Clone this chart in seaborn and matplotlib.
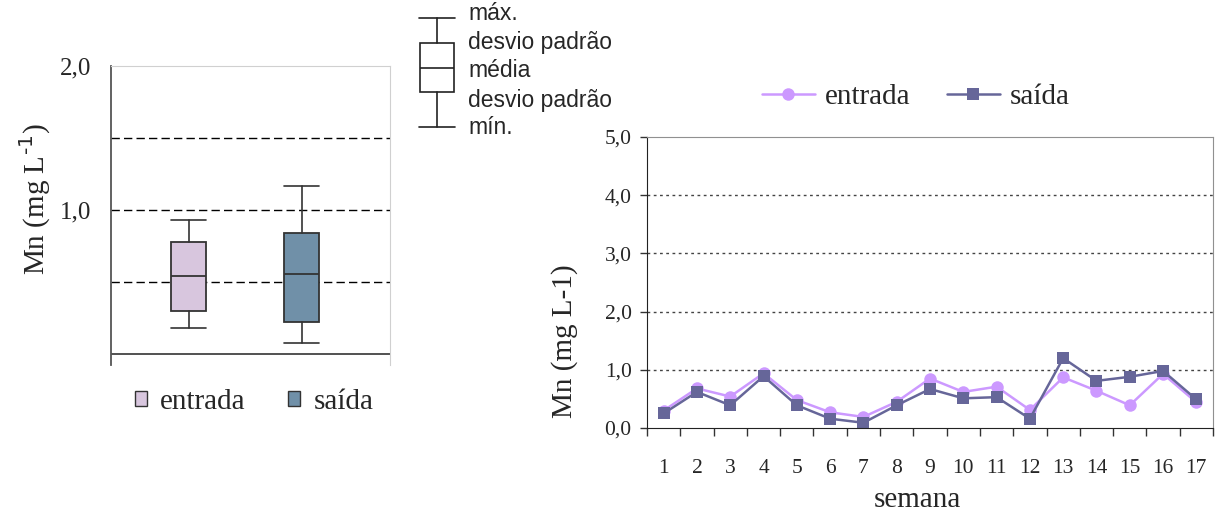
import matplotlib
matplotlib.use("Agg")
import matplotlib.pyplot as plt
from matplotlib.patches import Patch
from matplotlib.lines import Line2D
import numpy as np
import pandas as pd
import seaborn as sns

sns.set_style("white")
plt.rcParams["font.family"] = ["Liberation Serif", "DejaVu Serif"]

# box summary (min, mean - sd, mean, mean + sd, max)
grupos = ["entrada", "saída"]
box_min = [0.18, 0.08]
box_q1 = [0.30, 0.22]
box_med = [0.54, 0.555]
box_q3 = [0.78, 0.84]
box_max = [0.93, 1.17]
box_cores = ["#D8C6DE", "#7090A8"]

# weekly values
semanas = list(range(1, 18))
entrada = [0.30, 0.68, 0.54, 0.94, 0.48, 0.27, 0.19, 0.45, 0.85, 0.62,
           0.71, 0.31, 0.87, 0.64, 0.39, 0.93, 0.44]
saida = [0.25, 0.62, 0.39, 0.89, 0.39, 0.16, 0.09, 0.39, 0.67, 0.51,
         0.53, 0.16, 1.20, 0.81, 0.88, 0.98, 0.49]
linha_cores = {"entrada": "#CC99FF", "saída": "#666699"}

W, H = 1218, 513
fig = plt.figure(figsize=(W / 100, H / 100), dpi=100)


def fx(px):
    return px / W


def fy(py):
    return 1 - py / H


# ---------------- left: box chart ----------------
ax1 = fig.add_axes([fx(111), fy(365), fx(390 - 111), (365 - 66) / H])
stats = []
for i in range(2):
    stats.append(dict(label=grupos[i], whislo=box_min[i], q1=box_q1[i], med=box_med[i],
                      q3=box_q3[i], whishi=box_max[i], fliers=[]))
bp = ax1.bxp(stats, positions=[0, 1], widths=0.31, patch_artist=True,
             showfliers=False,
             boxprops=dict(edgecolor="#333333", linewidth=1.3),
             medianprops=dict(color="#333333", linewidth=1.3),
             whiskerprops=dict(color="#333333", linewidth=1.2),
             capprops=dict(color="#333333", linewidth=1.2),
             capwidths=0.31)
for patch, c in zip(bp["boxes"], box_cores):
    patch.set_facecolor(c)
ax1.set_xlim(-0.69, 1.78)
ax1.set_ylim(-0.076, 2.0)
for v in [0.5, 1.0, 1.5]:
    ax1.axhline(v, color="black", lw=1, ls=(0, (6, 3)), zorder=0)
ax1.axhline(0, color="#333333", lw=1.2, zorder=0)
ax1.set_xticks([])
ax1.set_yticks([1.0, 2.0])
ax1.set_yticklabels(["1,0", "2,0"], fontsize=18)
ax1.tick_params(axis="y", length=0, pad=14)
for s in ["top", "right"]:
    ax1.spines[s].set_color("#D0D0D0")
ax1.spines["bottom"].set_visible(False)
ax1.spines["left"].set_color("#555555")
ax1.spines["left"].set_linewidth(1.3)
fig.text(fx(35), fy(199), "Mn (mg L$^{\\text{-1}}$)", rotation=90,
         ha="center", va="center", fontsize=21)

handles_box = [Patch(facecolor=c, edgecolor="#333333", lw=1) for c in box_cores]
fig.legend(handles_box, grupos, loc="center", bbox_to_anchor=(fx(254), fy(402)),
           ncol=2, frameon=False, fontsize=21, handlelength=0.42, handleheight=0.42,
           handletextpad=0.45, columnspacing=1.45)

# ---------------- legend key (box meaning) ----------------
axk = fig.add_axes([fx(412), fy(135), fx(468 - 412), (135 - 12) / H])
axk.bxp([dict(whislo=0, q1=0.3, med=0.51, q3=0.73, whishi=0.95, fliers=[])],
        positions=[0], widths=0.6, patch_artist=True, showfliers=False,
        boxprops=dict(facecolor="white", edgecolor="#222222", linewidth=1.2),
        medianprops=dict(color="#222222", linewidth=1.2),
        whiskerprops=dict(color="#222222", linewidth=1.2),
        capprops=dict(color="#222222", linewidth=1.2), capwidths=0.65)
axk.set_xlim(-0.45, 0.55)
axk.set_ylim(-0.07, 1.0)
axk.axis("off")
key_labels = ["máx.", "desvio padrão", "média", "desvio padrão", "mín."]
key_y = [14, 42, 71, 100, 128]
for lab, yy in zip(key_labels, key_y):
    fig.text(fx(468), fy(yy), lab, ha="left", va="center", fontsize=16.5,
             family=["Liberation Sans", "DejaVu Sans"])

# ---------------- right: weekly line chart ----------------
ax2 = fig.add_axes([fx(647), fy(428), fx(1213 - 647), (428 - 137) / H])
df = pd.DataFrame({
    "semana": semanas * 2,
    "Mn": entrada + saida,
    "ponto": ["entrada"] * len(semanas) + ["saída"] * len(semanas),
})
sns.lineplot(data=df, x="semana", y="Mn", hue="ponto", style="ponto",
             hue_order=grupos, style_order=grupos,
             markers={"entrada": "o", "saída": "s"}, dashes=False,
             palette=linha_cores, markersize=9, markeredgewidth=0,
             linewidth=1.8, ax=ax2, legend=False)
ax2.set_xlim(0.5, 17.5)
ax2.set_ylim(0, 5)
for v in [1, 2, 3, 4]:
    ax2.axhline(v, color="#444444", lw=1, ls=(0, (2, 2.5)), zorder=0)
ax2.set_yticks([0, 1, 2, 3, 4, 5])
ax2.set_yticklabels(["0,0", "1,0", "2,0", "3,0", "4,0", "5,0"], fontsize=15.5)
ax2.set_xticks(semanas)
ax2.set_xticklabels([str(s) for s in semanas], fontsize=15.5)
ax2.set_xticks(np.arange(0.5, 18, 1), minor=True)
ax2.tick_params(axis="x", which="major", length=0, pad=22)
ax2.tick_params(axis="x", which="minor", length=6, width=1, color="#333333",
                direction="out", bottom=True)
ax2.tick_params(axis="y", length=5, width=1, color="#333333", direction="out",
                left=True, pad=6)
ax2.set_xlabel("")
ax2.set_ylabel("")
ax2.spines["top"].set_color("#909090")
ax2.spines["right"].set_color("#909090")
ax2.spines["left"].set_color("#222222")
ax2.spines["bottom"].set_color("#222222")
fig.text(fx(565), fy(341), "Mn (mg L-1)", rotation=90, ha="center", va="center",
         fontsize=21)
fig.text(fx(917), fy(500), "semana", ha="center", va="center", fontsize=21)

handles_line = [
    Line2D([0], [0], color=linha_cores["entrada"], marker="o", markersize=9,
           markeredgewidth=0, lw=1.8),
    Line2D([0], [0], color=linha_cores["saída"], marker="s", markersize=9,
           markeredgewidth=0, lw=1.8),
]
fig.legend(handles_line, grupos, loc="center", bbox_to_anchor=(fx(916), fy(97)),
           ncol=2, frameon=False, fontsize=21, handlelength=1.8,
           handletextpad=0.35, columnspacing=1.25)

fig.savefig("out.png", dpi=100)
